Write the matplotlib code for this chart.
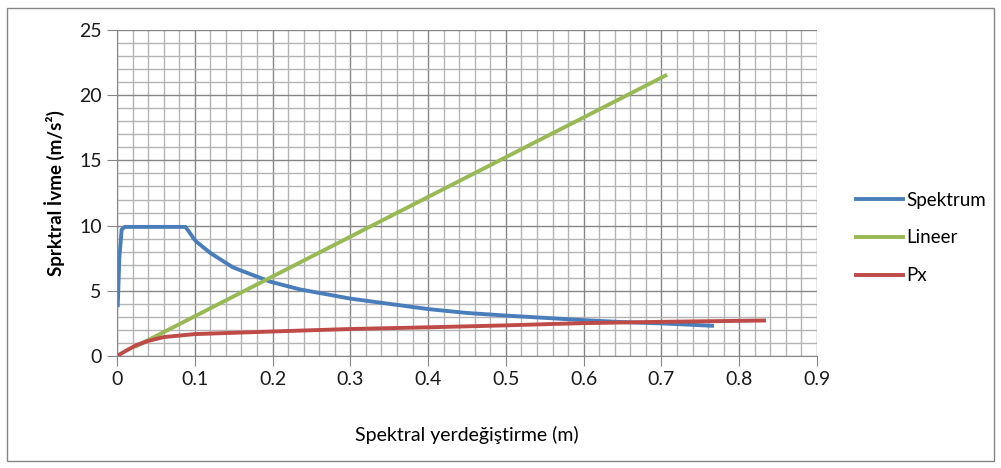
import matplotlib
matplotlib.use("Agg")
import matplotlib.pyplot as plt
from matplotlib.ticker import MultipleLocator
from matplotlib.patches import Rectangle

plt.rcParams['font.family'] = ['Lato', 'DejaVu Sans']

spek_x = [0.001, 0.003, 0.006, 0.01, 0.05, 0.088, 0.093, 0.098, 0.102, 0.12, 0.149, 0.171, 0.197,
          0.235, 0.3, 0.35, 0.4, 0.45, 0.5, 0.557, 0.6, 0.65, 0.7, 0.765]
spek_y = [3.9, 7.5, 9.7, 9.9, 9.9, 9.9, 9.5, 9.05, 8.77, 7.9, 6.8, 6.29, 5.7,
          5.11, 4.4, 4.0, 3.6, 3.3, 3.1, 2.9, 2.75, 2.6, 2.5, 2.32]

lin_x = [0.025, 0.705]
lin_y = [0.76, 21.5]

px_x = [0.0, 0.01, 0.025, 0.04, 0.06, 0.1, 0.2, 0.3, 0.4, 0.5, 0.557, 0.6, 0.7, 0.832]
px_y = [0.0, 0.35, 0.84, 1.15, 1.45, 1.68, 1.88, 2.07, 2.2, 2.35, 2.45, 2.52, 2.62, 2.72]

x_ticks = [0, 0.1, 0.2, 0.3, 0.4, 0.5, 0.6, 0.7, 0.8, 0.9]
x_tick_labels = ['0', '0.1', '0.2', '0.3', '0.4', '0.5', '0.6', '0.7', '0.8', '0.9']
y_ticks = [0, 5, 10, 15, 20, 25]

fig = plt.figure(figsize=(10.01, 4.68), dpi=100)
ax = fig.add_axes([117/1001, 1 - 356/468, 700/1001, 326/468])

ax.plot(spek_x, spek_y, color='#4a7ebb', lw=2.8, label='Spektrum')
ax.plot(lin_x, lin_y, color='#98b954', lw=2.8, label='Lineer')
ax.plot(px_x, px_y, color='#be4b48', lw=2.8, label='Px')

ax.set_xlim(0, 0.9)
ax.set_ylim(0, 25)
ax.set_xticks(x_ticks)
ax.set_xticklabels(x_tick_labels)
ax.set_yticks(y_ticks)
ax.xaxis.set_minor_locator(MultipleLocator(0.02))
ax.yaxis.set_minor_locator(MultipleLocator(1))
ax.grid(which='major', color='#868686', lw=1.0)
ax.grid(which='minor', color='#b4b4b4', lw=1.0)
ax.set_axisbelow(True)
ax.tick_params(which='minor', length=0)
ax.tick_params(which='major', length=7, color='#868686', labelsize=14, labelcolor='#1a1a1a', pad=4)
for s in ['top', 'right']:
    ax.spines[s].set_visible(False)
for s in ['left', 'bottom']:
    ax.spines[s].set_color('#868686')
ax.set_xlabel('Spektral yerdeğiştirme (m)', fontsize=14, labelpad=27)
ax.set_ylabel('Sprktral İvme (m/s²)', fontsize=13.5, fontweight='bold', labelpad=10)

leg = ax.legend(loc='center left', bbox_to_anchor=((856 - 117)/700, 0.362), frameon=False,
                fontsize=13.5, handlelength=2.5, handletextpad=0.2, labelspacing=1.1,
                borderaxespad=0, borderpad=0)

fig.patches.append(Rectangle((7/1001, 7/468), 987/1001, 453/468, transform=fig.transFigure,
                             fill=False, edgecolor='#868686', lw=1.0))

fig.savefig('out.png', dpi=100)
